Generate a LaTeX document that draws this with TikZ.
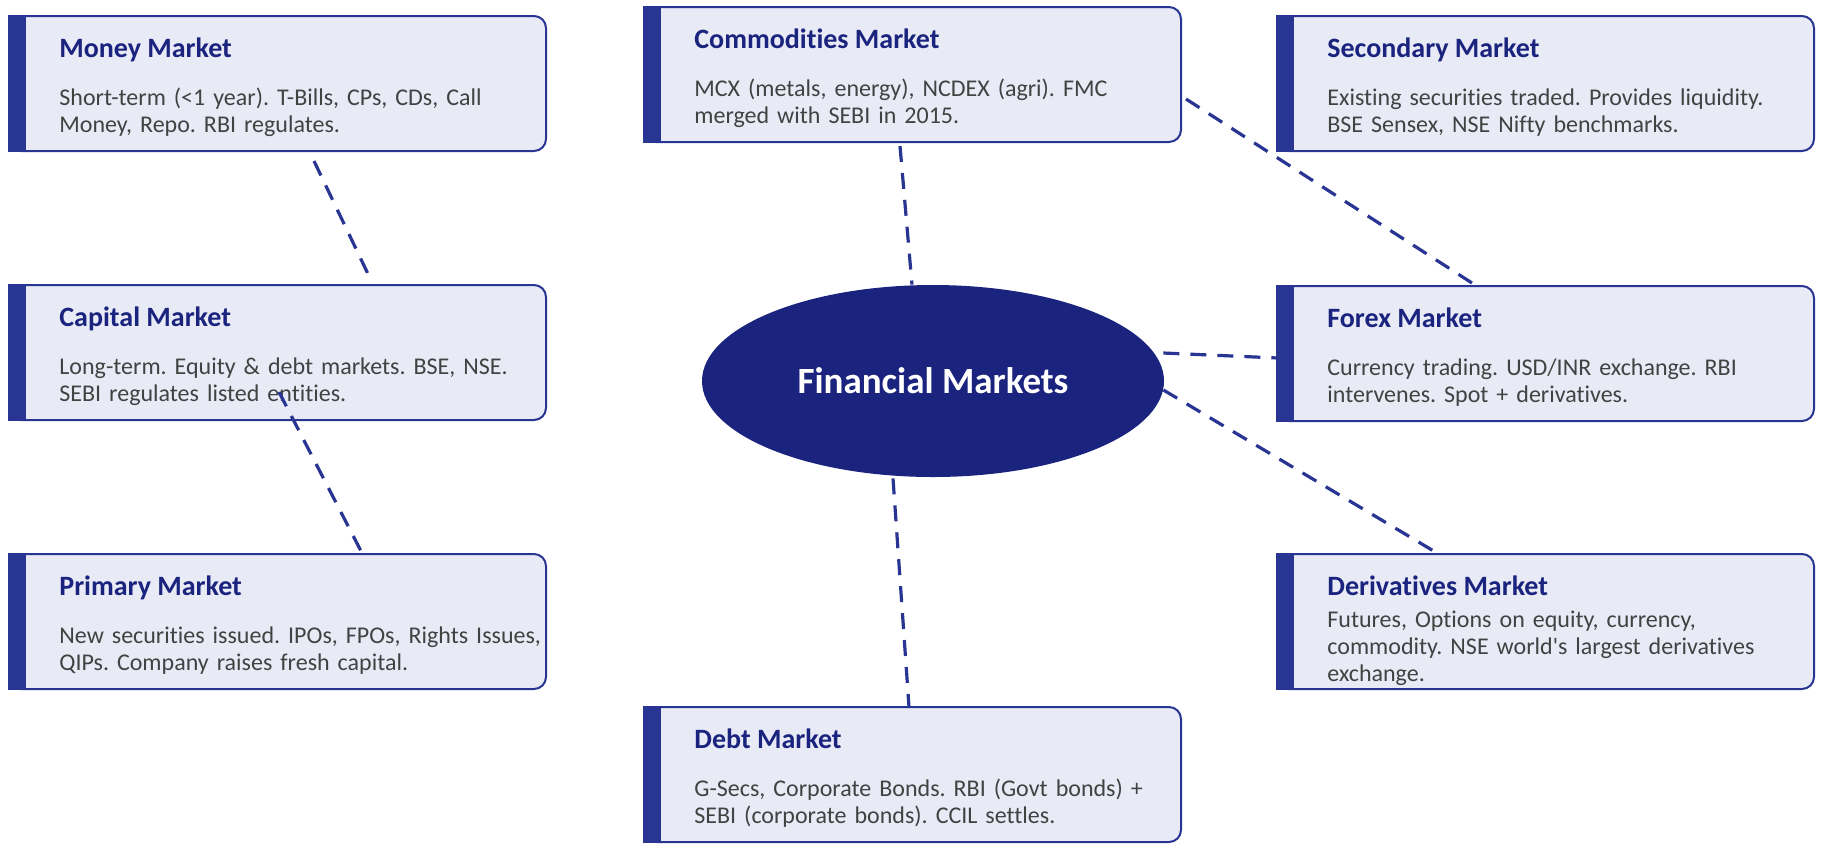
\documentclass[tikz,border=0pt]{standalone}
\usepackage{fontspec}
\setmainfont{Carlito}[Ligatures=NoCommon]
\usetikzlibrary{calc,shapes.geometric}

\definecolor{edgeblue}{HTML}{283593}
\definecolor{darkblue}{HTML}{1A237E}
\definecolor{cardfill}{HTML}{E8EAF6}
\definecolor{bodygrey}{HTML}{424242}

\frenchspacing
\begin{document}
\begin{tikzpicture}[x=0.5pt,y=-0.5pt,
  card/.style={draw=edgeblue, line width=1pt, fill=cardfill, rounded corners=6pt,
    anchor=north west, inner sep=0pt, outer sep=0pt,
    minimum width=268.5pt, minimum height=67.5pt},
  cardtitle/.style={anchor=base west, inner sep=0pt, text=darkblue,
    font=\fontsize{14}{16}\selectfont\bfseries},
  cardtext/.style={anchor=base west, inner sep=0pt, text=bodygrey,
    text width=255pt, align=left, font=\fontsize{12}{13.7}\selectfont},
  hub/.style={ellipse, fill=darkblue, inner sep=0pt, minimum width=231pt,
    minimum height=96pt, text=white, font=\fontsize{18.5}{22}\selectfont\bfseries},
  link/.style={draw=edgeblue, line width=1.6pt, dash pattern=on 8pt off 5.5pt}]

  \useasboundingbox (0,0) rectangle (1826,843);

  %% Centre of the map
  \node[hub] (hub) at (933,381) {Financial Markets};

  %% The market cards: name / x / y / title / text / first text line
  \foreach \id/\x/\y/\ttl/\txt/\o in {
    money/9/16/{Money Market}/{Short-term (<1 year). T-Bills, CPs, CDs, Call\\Money, Repo. RBI regulates.}/89,
    capital/9/285/{Capital Market}/{Long-term. Equity \& debt markets. BSE, NSE.\\SEBI regulates listed entities.}/89,
    primary/9/554/{Primary Market}/{New securities issued. IPOs, FPOs, Rights Issues,\\QIPs. Company raises fresh capital.}/89,
    commod/644/7/{Commodities Market}/{MCX (metals, energy), NCDEX (agri). FMC\\merged with SEBI in 2015.}/89,
    debt/644/707/{Debt Market}/{G-Secs, Corporate Bonds. RBI (Govt bonds) +\\SEBI (corporate bonds). CCIL settles.}/89,
    second/1277/16/{Secondary Market}/{Existing securities traded. Provides liquidity.\\BSE Sensex, NSE Nifty benchmarks.}/89,
    forex/1277/286/{Forex Market}/{Currency trading. USD/INR exchange. RBI\\intervenes. Spot + derivatives.}/89,
    deriv/1277/554/{Derivatives Market}/{Futures, Options on equity, currency,\\commodity. NSE world{\textquotesingle}s largest derivatives\\exchange.}/73}
  {
    \node[card] (\id) at (\x,\y) {};
    \fill[edgeblue] ($(\id.north west)+(-1,-1)$) rectangle ($(\id.south west)+(17,1)$);
    \node[cardtitle] (\id-title) at ($(\id.north west)+(50,41)$) {\ttl};
    \node[cardtext] (\id-text) at ($(\id.north west)+(50,\o)$) {\txt};
  }

  %% Dashed links
  \draw[link] ($(money.south west)+(305,10)$) -- ($(capital.north west)+(360,-9)$);
  \draw[link] ($(capital.south west)+(270,-28)$) -- ($(primary.north west)+(353,-1)$);
  \draw[link] ($(commod.south west)+(256,4)$) -- ($(hub.north)+(-21,0)$);
  \draw[link] ($(commod.north east)+(5,92)$) -- ($(forex.north west)+(195,-3)$);
  \draw[link] ($(hub.east)+(-1,-28)$) -- ($(forex.north west)+(1,72)$);
  \draw[link] ($(hub.east)+(-1,9)$) -- ($(deriv.north west)+(160,-1)$);
  \draw[link] ($(hub.south)+(-40,1)$) -- ($(debt.north west)+(265,0)$);

\end{tikzpicture}
\end{document}
